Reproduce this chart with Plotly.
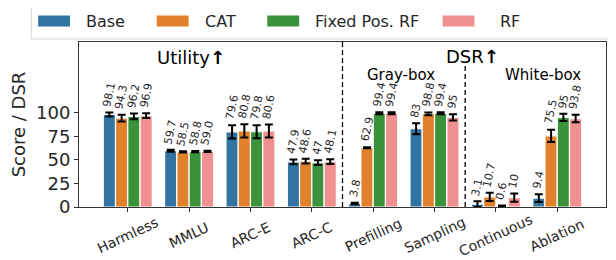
import plotly.graph_objects as go

categories = ["Harmless", "MMLU", "ARC-E", "ARC-C", "Prefilling", "Sampling", "Continuous", "Ablation"]
series_names = ["Base", "CAT", "Fixed Pos. RF", "RF"]
colors = ["#3274A1", "#E1812C", "#3A923A", "#F08F90"]

base_vals = [98.1, 59.7, 79.6, 47.9, 3.8, 83, 3.1, 9.4]
cat_vals = [94.3, 58.5, 80.8, 48.6, 62.9, 98.8, 10.7, 75.5]
fixed_vals = [96.2, 58.8, 79.8, 47, 99.4, 99.4, 0.6, 95]
rf_vals = [96.9, 59.0, 80.6, 48.1, 99.4, 95, 10, 93.8]

base_lbl = ["98.1", "59.7", "79.6", "47.9", "3.8", "83", "3.1", "9.4"]
cat_lbl = ["94.3", "58.5", "80.8", "48.6", "62.9", "98.8", "10.7", "75.5"]
fixed_lbl = ["96.2", "58.8", "79.8", "47", "99.4", "99.4", "0.6", "95"]
rf_lbl = ["96.9", "59.0", "80.6", "48.1", "99.4", "95", "10", "93.8"]

base_err = [2.0, 1.0, 7.0, 2.5, 0.8, 5.8, 3.0, 4.0]
cat_err = [3.5, 0.6, 7.0, 2.5, 0.6, 1.5, 4.4, 6.5]
fixed_err = [3.0, 0.6, 7.0, 2.5, 1.0, 1.0, 1.0, 3.8]
rf_err = [2.5, 0.6, 7.0, 2.5, 1.0, 3.3, 4.4, 4.0]

yticks = [0, 25, 50, 75, 100]

all_vals = [base_vals, cat_vals, fixed_vals, rf_vals]
all_lbls = [base_lbl, cat_lbl, fixed_lbl, rf_lbl]
all_errs = [base_err, cat_err, fixed_err, rf_err]

xs = list(range(len(categories)))
FONT = "DejaVu Sans"
TXT = "#262626"
XR = [-0.795, 7.795]

fig = go.Figure()
for name, vals, errs, col in zip(series_names, all_vals, all_errs, colors):
    fig.add_trace(go.Bar(
        x=xs, y=vals, name=name,
        marker=dict(color=col, line=dict(color="white", width=1.2)),
        error_y=dict(type="data", array=errs, visible=True, color="black", thickness=2, width=4),
        showlegend=False,
    ))

# The page body has an 8px margin; positions below are in window pixels.
OFF = 8
W_fig, H_fig = 616 - OFF, 260 - OFF
L, R, T, B = 78, 607, 42, 207  # plot area in window pixels

def px(x):
    return (x - L) / (R - L)

def py(y):
    return (B - y) / (B - T)

annotations = []
offsets = [-0.3, -0.1, 0.1, 0.3]
for vals, lbls, errs, off in zip(all_vals, all_lbls, all_errs, offsets):
    for i, (v, l, e) in enumerate(zip(vals, lbls, errs)):
        annotations.append(dict(
            x=i + off, y=v + e, xref="x", yref="y", text=l, showarrow=False,
            textangle=-78, xanchor="center", yanchor="bottom", yshift=2,
            font=dict(family=FONT, size=11, color=TXT),
        ))

for i, c in enumerate(categories):
    frac = (i - XR[0]) / (XR[1] - XR[0])
    annotations.append(dict(
        x=frac, y=py(235), xref="paper", yref="paper", text=c, showarrow=False, textangle=-25,
        xanchor="center", yanchor="middle",
        font=dict(family=FONT, size=14, color=TXT),
    ))

section_labels = [
    ("Utility<b>↑</b>", 190, 57, 18),
    ("DSR<b>↑</b>", 473, 56, 18),
    ("Gray-box", 401, 75, 15),
    ("White-box", 544, 75, 15),
]
for t, x, y, s in section_labels:
    annotations.append(dict(
        x=px(x), y=py(y), xref="paper", yref="paper", text=t, showarrow=False,
        xanchor="center", yanchor="middle", font=dict(family=FONT, size=s, color="black"),
    ))

shapes = [
    dict(type="line", xref="x", yref="paper", x0=3.5, x1=3.5, y0=0, y1=1,
         line=dict(color="black", width=1.3, dash="5px,3px")),
    dict(type="line", xref="x", yref="paper", x0=5.5, x1=5.5, y0=0, y1=py(66),
         line=dict(color="black", width=1.3, dash="5px,3px")),
]

# legend box (manual, matplotlib-like wide patches)
lx0, lx1, ly0, ly1 = 30, 640, 4, 39
shapes.append(dict(type="rect", xref="paper", yref="paper",
                   x0=px(lx0), x1=px(lx1), y0=py(ly1), y1=py(ly0),
                   line=dict(color="#d6d6d6", width=1), fillcolor="white", layer="above"))
patch_x = [37, 156, 267, 443]
text_x = [83, 202, 313, 499]
for name, col, x0, tx in zip(series_names, colors, patch_x, text_x):
    shapes.append(dict(type="rect", xref="paper", yref="paper",
                       x0=px(x0), x1=px(x0 + 32), y0=py(26.5), y1=py(15.5),
                       line=dict(width=0), fillcolor=col, layer="above"))
    annotations.append(dict(x=px(tx), y=py(21), xref="paper", yref="paper", text=name,
                            showarrow=False, xanchor="left", yanchor="middle",
                            font=dict(family=FONT, size=16, color=TXT)))

fig.update_layout(
    width=W_fig, height=H_fig,
    margin=dict(l=L - OFF, r=616 - R, t=T - OFF, b=260 - B, pad=0),
    paper_bgcolor="white", plot_bgcolor="white",
    barmode="group", bargap=0.2, bargroupgap=0.0,
    font=dict(family=FONT, color=TXT),
    showlegend=False,
    annotations=annotations, shapes=shapes,
    xaxis=dict(range=XR, tickvals=xs, showticklabels=False, ticks="outside",
               ticklen=4, tickcolor="#333", showline=True, linecolor="#333", linewidth=1,
               mirror=True, showgrid=False, zeroline=False, fixedrange=True),
    yaxis=dict(range=[0, 175], tickvals=yticks, ticks="outside", ticklen=4, tickcolor="#333",
               tickfont=dict(size=18, family=FONT, color=TXT), showline=True, linecolor="#333",
               linewidth=1, mirror=True, showgrid=False, zeroline=False,
               title=dict(text="Score / DSR", font=dict(size=18, family=FONT, color=TXT), standoff=6)),
)

fig.write_html("out.html")
